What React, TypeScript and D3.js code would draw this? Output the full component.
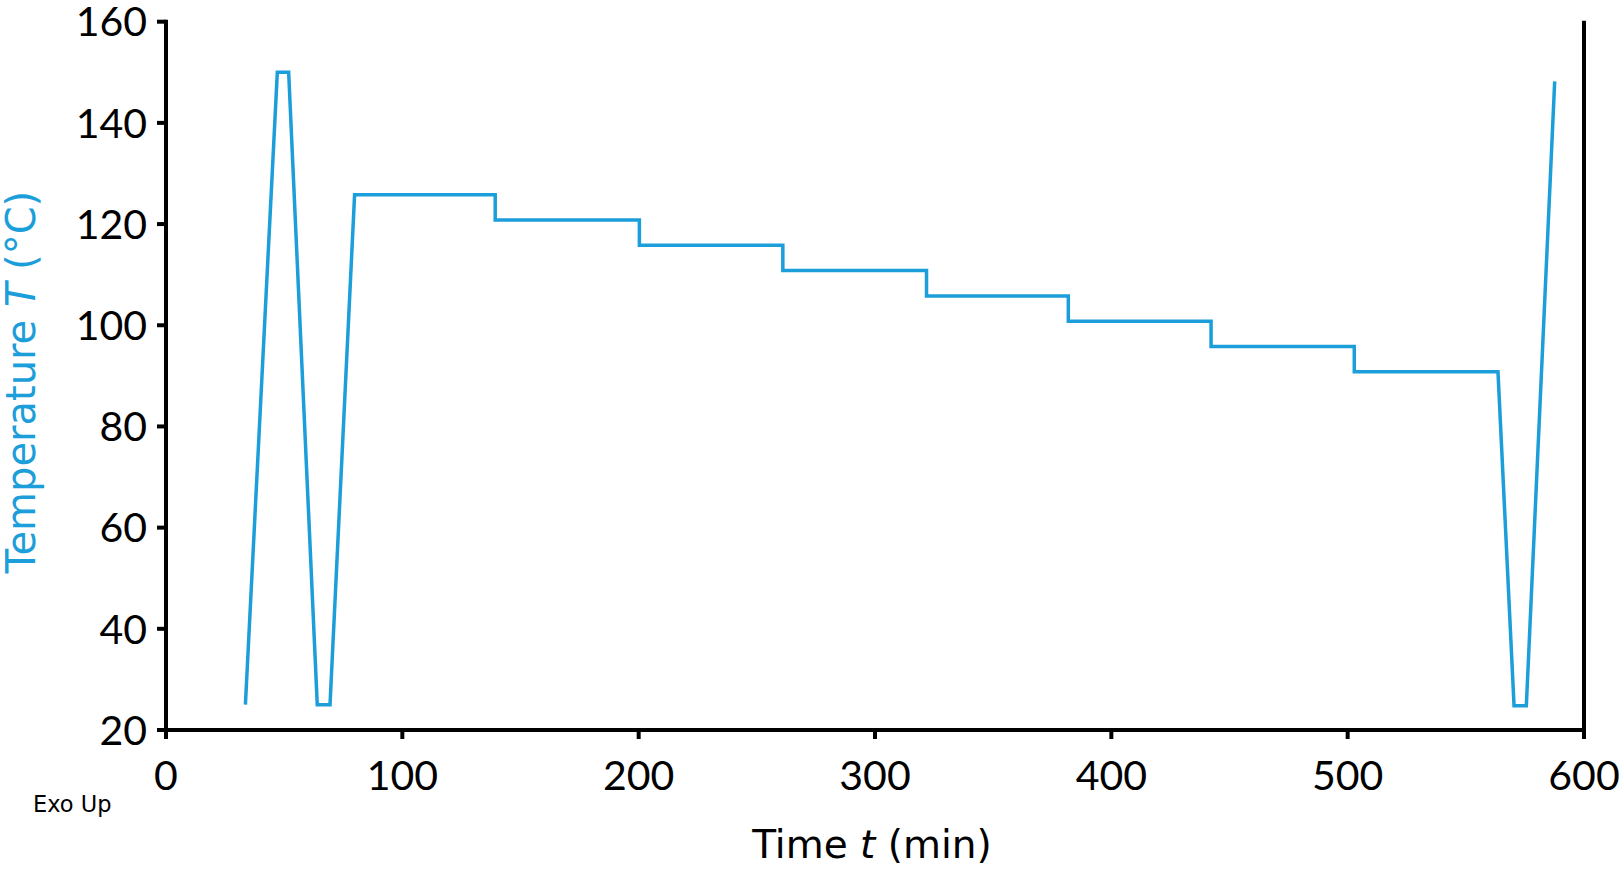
import { useEffect } from "react";
import { line, scaleLinear } from "d3";

const W = 1621;
const H = 875;
const M = { top: 21.7, right: 37, bottom: 145, left: 166 };

const BLUE = "#1b9ed9";
const NUM_FONT = "Lato, 'Open Sans', sans-serif";
const TITLE_FONT = "'DejaVu Sans', sans-serif";

// temperature programme: [time (min), T (°C)]
const times = [
  33.6, 47.1, 51.9, 64, 69.4, 79.8, 139.3, 139.3, 200.3, 200.3, 261, 261, 321.8, 321.8, 381.8, 381.8,
  442.2, 442.2, 502.8, 502.8, 563.6, 570.4, 575.6, 587.6,
];
const temps = [
  25, 150, 150, 25, 25, 125.8, 125.8, 120.8, 120.8, 115.8, 115.8, 110.8, 110.8, 105.8, 105.8, 100.8,
  100.8, 95.8, 95.8, 90.8, 90.8, 24.8, 24.8, 148.2,
];

const xTicks = [0, 100, 200, 300, 400, 500, 600];
const yTicks = [20, 40, 60, 80, 100, 120, 140, 160];

export default function App() {
  useEffect(() => {
    document.body.style.margin = "0";
  }, []);

  const x = scaleLinear().domain([0, 600]).range([M.left, W - M.right]);
  const y = scaleLinear().domain([20, 160]).range([H - M.bottom, M.top]);

  const pts = times.map((t, i) => [t, temps[i]] as [number, number]);
  const path = line<[number, number]>()
    .x((d) => x(d[0]))
    .y((d) => y(d[1]));

  const x0 = x(0);
  const x1 = x(600);
  const yb = y(20);
  const yt = y(160);

  return (
    <svg width={W} height={H} style={{ display: "block", background: "#fff" }} fontFamily={NUM_FONT}>
      <path d={path(pts) ?? undefined} fill="none" stroke={BLUE} strokeWidth={3.5} strokeLinejoin="miter" />

      {/* axes: left, bottom, plain right frame line */}
      <line x1={x0} x2={x0} y1={yt - 2} y2={yb} stroke="#000" strokeWidth={4} />
      <line x1={x0 - 2} x2={x1 + 2} y1={yb} y2={yb} stroke="#000" strokeWidth={4} />
      <line x1={x1} x2={x1} y1={yt - 1} y2={yb} stroke="#000" strokeWidth={4} />

      {yTicks.map((t) => (
        <g key={t}>
          <line x1={x0 - 9} x2={x0} y1={y(t)} y2={y(t)} stroke="#000" strokeWidth={4} />
          <text x={x0 - 19} y={y(t)} dy="0.36em" textAnchor="end" fontSize={41} fill="#000">
            {t}
          </text>
        </g>
      ))}

      {xTicks.map((t) => (
        <g key={t}>
          <line x1={x(t)} x2={x(t)} y1={yb} y2={yb + 9} stroke="#000" strokeWidth={4} />
          <text x={x(t)} y={790} textAnchor="middle" fontSize={41} fill="#000">
            {t}
          </text>
        </g>
      ))}

      <text x={33} y={812} fontSize={22.5} fill="#000" fontFamily={TITLE_FONT}>
        Exo Up
      </text>

      <text x={872} y={858} textAnchor="middle" fontSize={39} fill="#000" fontFamily={TITLE_FONT}>
        Time <tspan fontStyle="italic">t</tspan> (min)
      </text>

      <text
        transform={`translate(35, 382) rotate(-90)`}
        textAnchor="middle"
        fontSize={40}
        fill={BLUE}
        fontFamily={TITLE_FONT}
      >
        Temperature <tspan fontStyle="italic">T</tspan> (°C)
      </text>
    </svg>
  );
}
